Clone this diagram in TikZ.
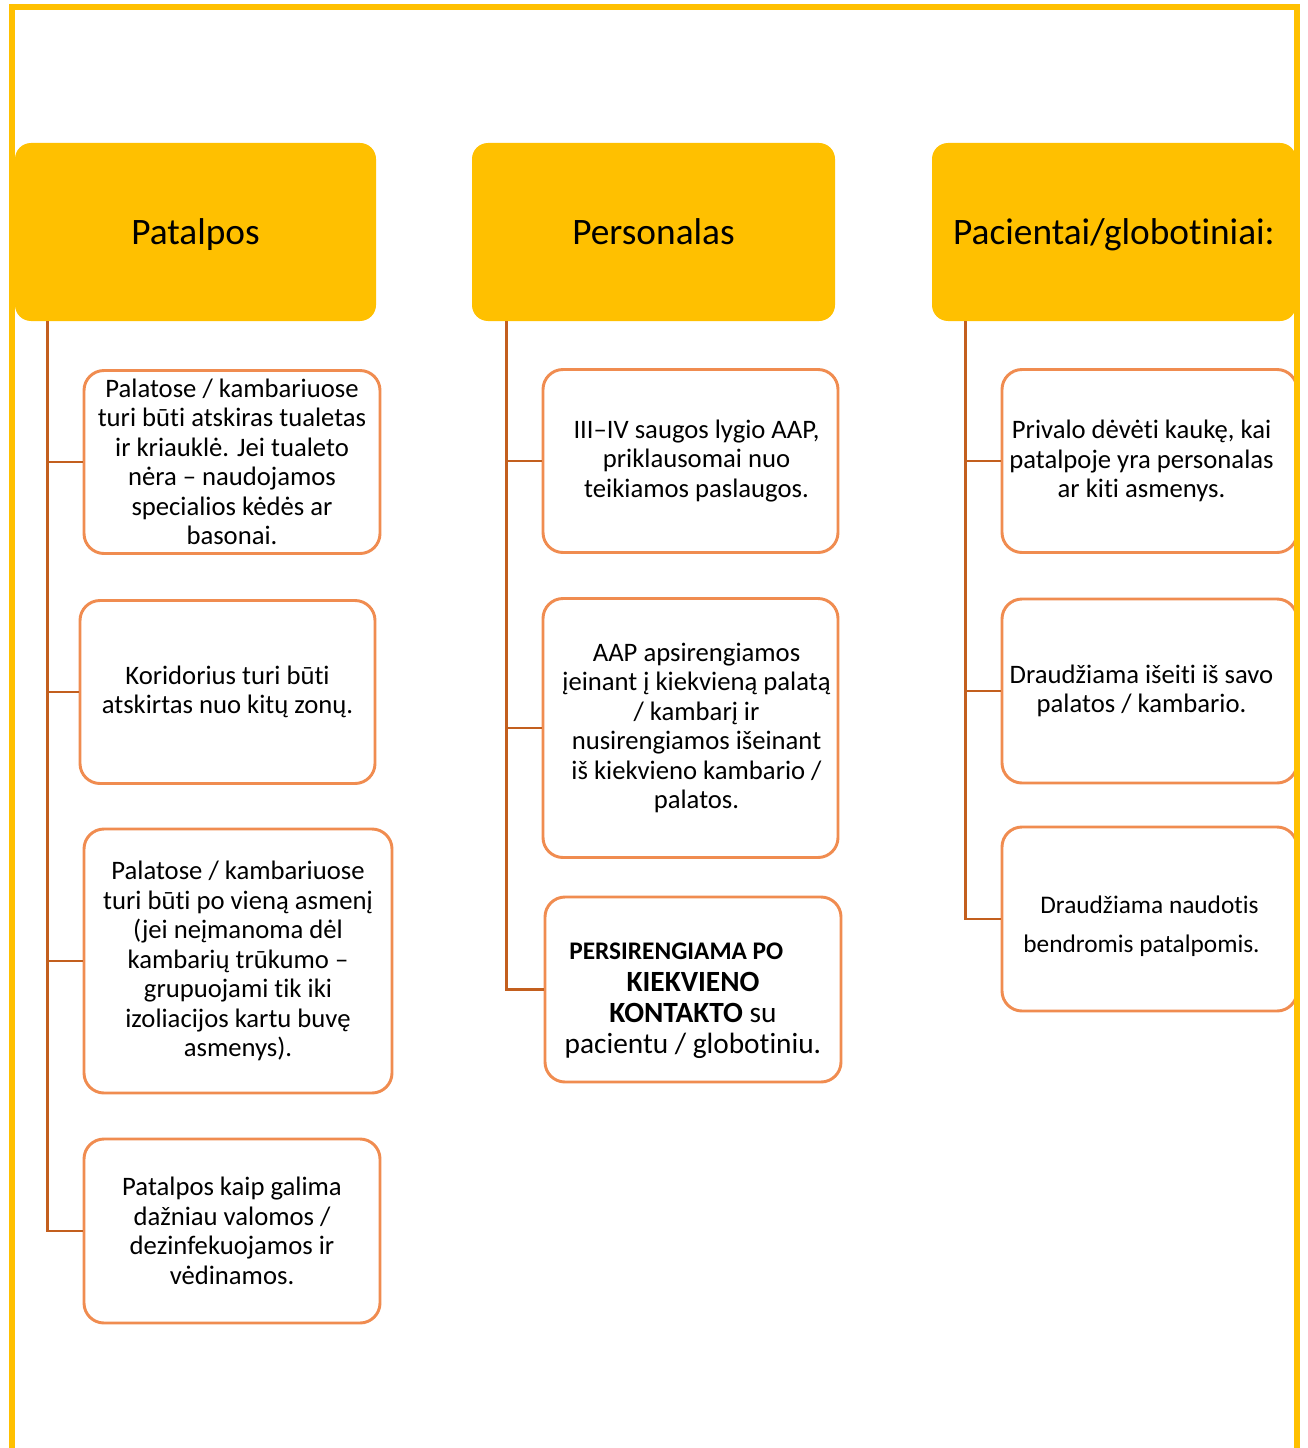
\documentclass[tikz,border=0pt]{standalone}
\usepackage{fontspec}
\setmainfont{Carlito}[RawFeature={-liga;-clig;-calt;-dlig}]
\usetikzlibrary{calc}
\definecolor{hdr}{HTML}{FFC000}
\definecolor{boxline}{RGB}{240,140,80}
\definecolor{connc}{RGB}{195,95,30}
\newcommand\shl[1]{#1\hspace*{12pt}\null}
\newcommand\shr[1]{\null\hspace*{9pt}#1}
\tikzset{
  hdrbox/.style={fill=hdr, draw=none, rounded corners=12pt, align=center, inner sep=0pt, text height=24pt, text depth=6pt, font=\fontsize{28}{34}\selectfont},
  bodybox/.style={draw=boxline, line width=2.2pt, fill=white, rounded corners=15pt, align=center, inner sep=0pt, font=\fontsize{20}{22.1}\selectfont},
  connline/.style={draw=connc, line width=2pt},
  borderline/.style={draw=hdr, line width=4.5pt, line join=miter},
  sz/.style 2 args={minimum width=#1*0.75pt, minimum height=#2*0.75pt}
}
\begin{document}
\begin{tikzpicture}[x=0.75pt, y=-0.75pt]
\useasboundingbox (0,0) rectangle (1307,1448);
\fill[white] (0,0) rectangle (1307,1448);

% headers
\node[hdrbox, sz={361}{178}] (h1) at (195.5,232) {Patalpos};
\node[hdrbox, sz={363}{178}] (h2) at (653.5,232) {Personalas};
\node[hdrbox, sz={364}{178}] (h3) at (1114,232) {Pacientai/globotiniai:};

% column 1
\node[bodybox, sz={296}{183}] (b11) at (232,462) {Palatose / kambariuose\\ turi būti atskiras tualetas\\ ir kriauklė. Jei tualeto\\ nėra – naudojamos\\ specialios kėdės ar\\ basonai.};
\node[bodybox, sz={295}{183}] (b12) at (227.5,692) {Koridorius turi būti\\ atskirtas nuo kitų zonų.};
\node[bodybox, sz={308}{264}] (b13) at (238,961) {Palatose / kambariuose\\ turi būti po vieną asmenį\\ (jei neįmanoma dėl\\ kambarių trūkumo –\\ grupuojami tik iki\\ izoliacijos kartu buvę\\ asmenys).};
\node[bodybox, sz={296}{184}] (b14) at (232,1231) {Patalpos kaip galima\\ dažniau valomos /\\ dezinfekuojamos ir\\ vėdinamos.};

% column 2
\node[bodybox, sz={295}{183}] (b21) at (690.5,461) {\shr{III–IV saugos lygio AAP,}\\ \shr{priklausomai nuo}\\ \shr{teikiamos paslaugos.}};
\node[bodybox, sz={295}{259}] (b22) at (690.5,728) {\shr{AAP apsirengiamos}\\ \shr{įeinant į kiekvieną palatą}\\ \shr{/ kambarį ir}\\ \shr{nusirengiamos išeinant}\\ \shr{iš kiekvieno kambario /}\\ \shr{palatos.}};
\node[bodybox, sz={296}{185}, font=\fontsize{22}{23.5}\selectfont] (b23) at (693,989.5) {{\rule{0pt}{30pt}\fontsize{19}{23.5}\selectfont\bfseries PERSIRENGIAMA PO\hspace*{25pt}\null}\\ {\bfseries KIEKVIENO}\\ {\bfseries KONTAKTO} su\\ pacientu / globotiniu.};

% column 3
\node[bodybox, sz={295}{183}] (b31) at (1149.5,461) {\shl{Privalo dėvėti kaukę, kai}\\ \shl{patalpoje yra personalas}\\ \shl{ar kiti asmenys.}};
\node[bodybox, sz={295}{184}] (b32) at (1149.5,691) {\shl{Draudžiama išeiti iš savo}\\ \shl{palatos / kambario.}};
\node[bodybox, sz={295}{184}, font=\fontsize{19}{29}\selectfont] (b33) at (1149.5,919) {\rule{0pt}{24pt}Draudžiama naudotis\\ \shl{bendromis patalpomis.}};

% connectors
\coordinate (t1) at ($(h1.south west)+(33,0)$);
\coordinate (t2) at ($(h2.south west)+(35,0)$);
\coordinate (t3) at ($(h3.south west)+(34,0)$);
\draw[connline] (t1) |- (b14.west);
\foreach \b in {b11,b12,b13} \draw[connline] (t1 |- \b.west) -- (\b.west);
\draw[connline] (t2) |- (b23.west);
\foreach \b in {b21,b22} \draw[connline] (t2 |- \b.west) -- (\b.west);
\draw[connline] (t3) |- (b33.west);
\foreach \b in {b31,b32} \draw[connline] (t3 |- \b.west) -- (\b.west);

% yellow frame
\draw[borderline] (12,1460) -- (12,7) -- (1297,7) -- (1297,1460);
\end{tikzpicture}
\end{document}
